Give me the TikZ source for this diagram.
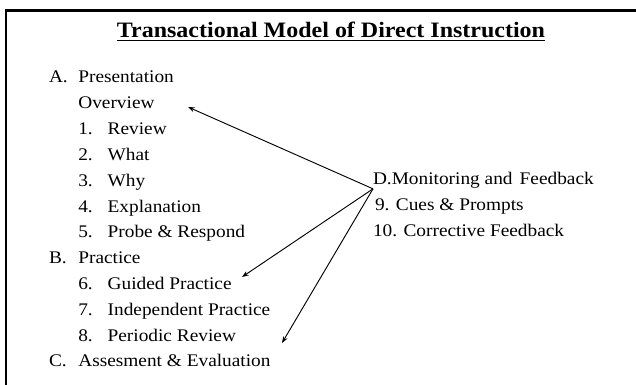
\documentclass[tikz,border=0pt]{standalone}
\usepackage{fontspec}
\setmainfont{Liberation Serif}[FakeStretch=1.09]
\usepackage{tikz}
\usetikzlibrary{arrows.meta}
\usetikzlibrary{positioning}
\tikzset{every text node part/.style={align=left, font={\fontsize{13.3pt}{16pt}\selectfont}}}
\tikzstyle{item} = [inner sep=0pt, outer sep=0pt, anchor=base west]
\tikzstyle{ln} = [draw, line width=0.7pt, -{Stealth[length=5pt, width=3.6pt]}]
\newcommand{\itemno}[1]{\makebox[22pt][l]{#1}}

\begin{document}
\begin{tikzpicture}[
    x=0.75pt, y=-0.75pt,
    title/.style={inner sep=0pt, anchor=base, every text node part/.append style={font={\fontsize{16.5pt}{20pt}\selectfont\bfseries}}},
    frame/.style={draw, line width=2.4pt}
  ]
  \useasboundingbox (0,0) rectangle (636,385);

  % Define frame
  \draw[frame] (5,10.5) -- (636,10.5);
  \draw[frame, line width=1.5pt] (6,10.5) -- (6,385);

  % Define title
  \node[title] (title) at (331,38) {\underline{Transactional Model of Direct Instruction}};

  % Define presentation part
  \node[item] (presentation) at (49,83) {\itemno{A.}Presentation};
  \node[item, below=19.35pt of presentation.base west, anchor=base west, xshift=22pt] (overview) {Overview};
  \node[item, below=19.35pt of overview.base west, anchor=base west] (review) {\itemno{1.}Review};
  \node[item, below=19.35pt of review.base west, anchor=base west] (what) {\itemno{2.}What};
  \node[item, below=19.35pt of what.base west, anchor=base west] (why) {\itemno{3.}Why};
  \node[item, below=19.35pt of why.base west, anchor=base west] (explanation) {\itemno{4.}Explanation};
  \node[item, below=19.35pt of explanation.base west, anchor=base west] (probe) {\itemno{5.}Probe \& Respond};

  % Define practice part
  \node[item, below=19.35pt of probe.base west, anchor=base west, xshift=-22pt] (practice) {\itemno{B.}Practice};
  \node[item, below=19.35pt of practice.base west, anchor=base west, xshift=22pt] (guided) {\itemno{6.}Guided Practice};
  \node[item, below=19.35pt of guided.base west, anchor=base west] (independent) {\itemno{7.}Independent Practice};
  \node[item, below=19.35pt of independent.base west, anchor=base west] (periodic) {\itemno{8.}Periodic Review};

  % Define assessment part
  \node[item, below=19.35pt of periodic.base west, anchor=base west, xshift=-22pt] (assessment) {\itemno{C.}Assesment \& Evaluation};

  % Define monitoring part
  \node[item] (monitoring) at (373,185) {D.Monitoring and\hspace{0.4em}Feedback};
  \node[item, below=19.35pt of monitoring.base west, anchor=base west, xshift=1.5pt] (cues) {9. Cues \& Prompts};
  \node[item, below=19.35pt of cues.base west, anchor=base west, xshift=-1.5pt] (corrective) {10. Corrective Feedback};

  % Define arrow ends
  \coordinate (toOverview) at (188,107);
  \coordinate (toGuided) at (242,277);
  \coordinate (toAssessment) at (282,343);

  % Draw lines
  \draw[ln] (monitoring.south west) -- (toOverview);
  \draw[ln] (monitoring.south west) -- (toGuided);
  \draw[ln] (monitoring.south west) -- (toAssessment);

\end{tikzpicture}
\end{document}
